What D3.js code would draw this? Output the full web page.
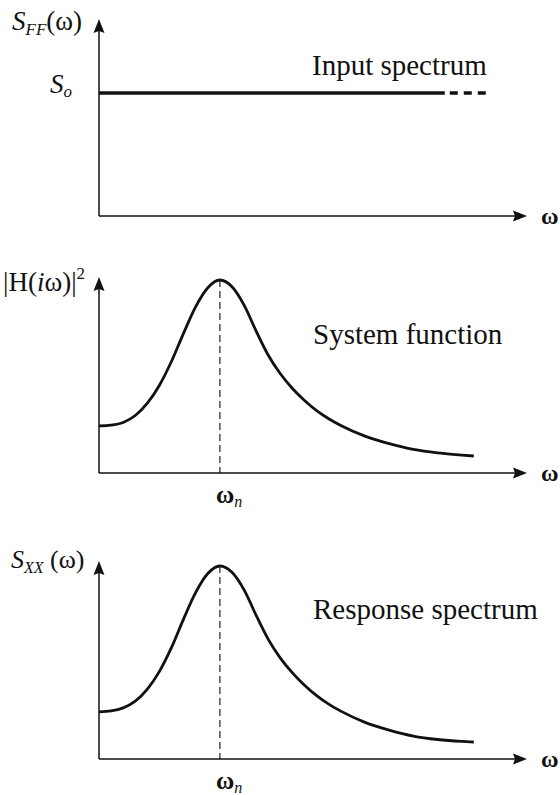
<!DOCTYPE html>
<html>
<head>
<meta charset="utf-8">
<script src="https://cdn.jsdelivr.net/npm/d3@7"></script>
<style>
  html, body { margin: 0; padding: 0; background: #fff; }
  svg { display: block; }
</style>
</head>
<body>
<svg id="chart" width="560" height="795"></svg>
<script>
// Frequency ratio ω/ωn at which the curves are sampled
const omegaRatio = [0, 0.1, 0.2, 0.3, 0.4, 0.5, 0.6, 0.7, 0.8, 0.9, 1.0,
                    1.1, 1.2, 1.3, 1.4, 1.5, 1.6, 1.7, 1.8, 1.9, 2.0, 2.2, 2.4, 2.6, 2.8, 3.0, 3.1];
// |H(iω)|², normalised to its resonant peak
const systemGain = [0.244, 0.248, 0.262, 0.298, 0.362, 0.455, 0.579, 0.725, 0.862, 0.960, 1.0,
                    0.965, 0.870, 0.735, 0.610, 0.514, 0.438, 0.376, 0.323, 0.281, 0.246, 0.191, 0.152, 0.122, 0.104, 0.093, 0.088];
// S_XX(ω), normalised to its resonant peak
const responseSpectrum = [0.244, 0.249, 0.265, 0.300, 0.362, 0.454, 0.578, 0.726, 0.863, 0.961, 1.0,
                    0.967, 0.876, 0.744, 0.620, 0.523, 0.446, 0.382, 0.328, 0.284, 0.248, 0.190, 0.150, 0.119, 0.101, 0.091, 0.088];
// White-noise input level and the frequency span it is drawn over
const inputLevel = 0.637;
const inputSolidEnd = 2.86;
const inputDashedEnd = 3.21;
// Natural frequency marker
const naturalRatio = 1.0;
const axisMaxRatio = 3.54;

const serifStack = "'Liberation Serif', Tinos, 'Noto Serif', 'Nimbus Roman', 'Nimbus Roman No9 L', FreeSerif, " +
                   "'Times New Roman', Times, 'DejaVu Serif', serif";
const svg = d3.select("#chart");

const x = d3.scaleLinear().domain([0, axisMaxRatio]).range([99, 527]);

const panels = [
  { axisY: 216, peakY: 23, tipY: 19 },
  { axisY: 473, peakY: 280, tipY: 277 },
  { axisY: 759, peakY: 566, tipY: 561 }
];
panels.forEach(p => { p.y = d3.scaleLinear().domain([0, 1]).range([p.axisY, p.peakY]); });

const ink = "#111";

function label(xp, yp, size) {
  return svg.append("text")
    .attr("x", xp).attr("y", yp)
    .style("font-family", serifStack)
    .attr("font-size", size)
    .attr("fill", ink);
}

function drawAxes(p) {
  const g = svg.append("g");
  const x0 = x(0), xEnd = x(axisMaxRatio);
  // vertical axis with arrowhead
  g.append("line").attr("x1", x0).attr("x2", x0).attr("y1", p.axisY).attr("y2", p.tipY + 10)
    .attr("stroke", ink).attr("stroke-width", 1.5);
  g.append("path")
    .attr("d", `M${x0},${p.tipY} L${x0 - 5.5},${p.tipY + 14} L${x0},${p.tipY + 12} L${x0 + 5.5},${p.tipY + 14} Z`)
    .attr("fill", ink);
  // horizontal axis with arrowhead
  g.append("line").attr("x1", x0).attr("x2", xEnd - 10).attr("y1", p.axisY).attr("y2", p.axisY)
    .attr("stroke", ink).attr("stroke-width", 1.5);
  g.append("path")
    .attr("d", `M${xEnd},${p.axisY} L${xEnd - 14},${p.axisY - 5.5} L${xEnd - 12},${p.axisY} L${xEnd - 14},${p.axisY + 5.5} Z`)
    .attr("fill", ink);
  label(541, p.axisY + 8, 24).attr("font-weight", "bold").text("ω");
}

panels.forEach(drawAxes);

// Panel 1: flat input spectrum
const p1 = panels[0];
svg.append("line")
  .attr("x1", x(0)).attr("x2", x(inputSolidEnd))
  .attr("y1", p1.y(inputLevel)).attr("y2", p1.y(inputLevel))
  .attr("stroke", ink).attr("stroke-width", 3.4);
svg.append("line")
  .attr("x1", x(inputSolidEnd) + 5).attr("x2", x(inputDashedEnd))
  .attr("y1", p1.y(inputLevel)).attr("y2", p1.y(inputLevel))
  .attr("stroke", ink).attr("stroke-width", 3.4)
  .attr("stroke-dasharray", "8,6");

const t1 = label(12, 30, 27);
t1.append("tspan").attr("font-style", "italic").text("S");
t1.append("tspan").attr("font-style", "italic").attr("font-size", 17).attr("dy", 5).text("FF");
t1.append("tspan").attr("dy", -5).text("(ω)");

const so = label(50, 93, 27);
so.append("tspan").attr("font-style", "italic").text("S");
so.append("tspan").attr("font-style", "italic").attr("font-size", 17).attr("dy", 4).text("o");

label(312, 75, 29).text("Input spectrum");

// Panels 2 and 3: resonant curves
function drawCurve(p, values) {
  const line = d3.line()
    .x((d, i) => x(omegaRatio[i]))
    .y(d => p.y(d))
    .curve(d3.curveMonotoneX);
  svg.append("path").datum(values)
    .attr("d", line)
    .attr("fill", "none")
    .attr("stroke", ink)
    .attr("stroke-width", 2.8)
    .attr("stroke-linejoin", "round");
  const peak = values[omegaRatio.indexOf(naturalRatio)];
  svg.append("line")
    .attr("x1", x(naturalRatio)).attr("x2", x(naturalRatio))
    .attr("y1", p.y(peak)).attr("y2", p.axisY)
    .attr("stroke", ink).attr("stroke-width", 1.1)
    .attr("stroke-dasharray", "7,4");
  const lab = label(x(naturalRatio) - 4, p.axisY + 30, 25);
  lab.append("tspan").attr("font-weight", "bold").text("ω");
  lab.append("tspan").attr("font-style", "italic").attr("font-size", 16).attr("dy", 4).text("n");
}

drawCurve(panels[1], systemGain);
drawCurve(panels[2], responseSpectrum);

const h = label(3, 291, 27);
h.append("tspan").text("|H(");
h.append("tspan").attr("font-style", "italic").text("i");
h.append("tspan").text("ω)|");
h.append("tspan").attr("font-size", 17).attr("dy", -12).text("2");

label(313, 344, 29).text("System function");

const sxx = label(11, 568, 26);
sxx.append("tspan").attr("font-style", "italic").text("S");
sxx.append("tspan").attr("font-style", "italic").attr("font-size", 16).attr("dy", 5).text("XX");
sxx.append("tspan").attr("dy", -5).text(" (ω)");

label(313, 619, 29).text("Response spectrum");
</script>
</body>
</html>
